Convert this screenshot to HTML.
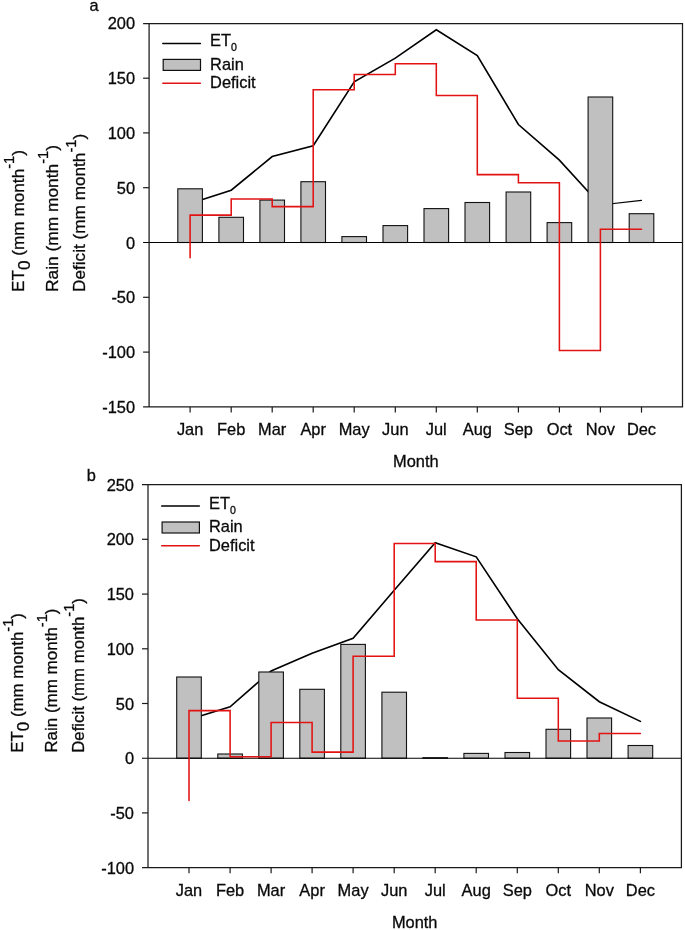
<!DOCTYPE html>
<html lang="en">
<head>
<meta charset="utf-8">
<title>ET0, rain and deficit by month</title>
<style>
html,body{margin:0;padding:0;background:#fff;}
body{width:685px;height:930px;overflow:hidden;}
svg{display:block;will-change:transform;}
.t{font-family:'Liberation Sans', Arial, sans-serif;font-size:16.4px;fill:#0a0a0a;stroke:#0a0a0a;stroke-width:0.3px;}
.yl{font-family:'Liberation Sans', Arial, sans-serif;fill:#0a0a0a;stroke:#0a0a0a;stroke-width:0.3px;}
</style>
</head>
<body>
<svg width="685" height="930" viewBox="0 0 685 930">
<rect x="0" y="0" width="685" height="930" fill="#fff"/>
<g id="panel-a">
<polyline points="190.1,203.6 231.2,190.2 272.2,156.6 313.2,145.8 354.2,81.8 395.3,58.1 436.3,29.8 477.3,55.5 518.4,124.5 559.4,160.1 600.4,205.0" fill="none" stroke="#000" stroke-width="1.6" stroke-linejoin="miter" stroke-linecap="round"/>
<line x1="600.4" y1="205.0" x2="641.5" y2="200.4" stroke="#000" stroke-width="1.15" stroke-linecap="round"/>
<rect x="177.8" y="188.8" width="24.6" height="53.7" fill="#C0C0C0" stroke="#111" stroke-width="1.1"/>
<rect x="218.9" y="217.3" width="24.6" height="25.2" fill="#C0C0C0" stroke="#111" stroke-width="1.1"/>
<rect x="259.9" y="200.1" width="24.6" height="42.4" fill="#C0C0C0" stroke="#111" stroke-width="1.1"/>
<rect x="300.9" y="181.7" width="24.6" height="60.8" fill="#C0C0C0" stroke="#111" stroke-width="1.1"/>
<rect x="341.9" y="236.6" width="24.6" height="5.9" fill="#C0C0C0" stroke="#111" stroke-width="1.1"/>
<rect x="383.0" y="225.6" width="24.6" height="16.9" fill="#C0C0C0" stroke="#111" stroke-width="1.1"/>
<rect x="424.0" y="208.6" width="24.6" height="33.9" fill="#C0C0C0" stroke="#111" stroke-width="1.1"/>
<rect x="465.0" y="202.5" width="24.6" height="40.0" fill="#C0C0C0" stroke="#111" stroke-width="1.1"/>
<rect x="506.1" y="192.0" width="24.6" height="50.5" fill="#C0C0C0" stroke="#111" stroke-width="1.1"/>
<rect x="547.1" y="222.6" width="24.6" height="19.9" fill="#C0C0C0" stroke="#111" stroke-width="1.1"/>
<rect x="588.1" y="97.0" width="24.6" height="145.5" fill="#C0C0C0" stroke="#111" stroke-width="1.1"/>
<rect x="629.2" y="213.7" width="24.6" height="28.8" fill="#C0C0C0" stroke="#111" stroke-width="1.1"/>
<line x1="143.1" y1="242.5" x2="682.5" y2="242.5" stroke="#000" stroke-width="1.15"/>
<path d="M190.1,257.8 V215.1 H231.2 V198.9 H272.2 V206.6 H313.2 V89.7 H354.2 V74.5 H395.3 V63.7 H436.3 V95.5 H477.3 V174.6 H518.4 V182.7 H559.4 V350.5 H600.4 V229.2 H641.5" fill="none" stroke="#E21313" stroke-width="1.55" stroke-linejoin="miter" stroke-linecap="round"/>
<path d="M143.1,23.5H682.5V406.9H143.1M149.1,23.5V406.9" fill="none" stroke="#1a1a1a" stroke-width="1.25" stroke-linejoin="miter"/>
<text x="135.1" y="29.4" text-anchor="end" class="t">200</text>
<line x1="143.1" y1="78.2" x2="149.1" y2="78.2" stroke="#1a1a1a" stroke-width="1.2"/>
<text x="135.1" y="84.2" text-anchor="end" class="t">150</text>
<line x1="143.1" y1="132.9" x2="149.1" y2="132.9" stroke="#1a1a1a" stroke-width="1.2"/>
<text x="135.1" y="138.9" text-anchor="end" class="t">100</text>
<line x1="143.1" y1="187.7" x2="149.1" y2="187.7" stroke="#1a1a1a" stroke-width="1.2"/>
<text x="135.1" y="193.7" text-anchor="end" class="t">50</text>
<text x="135.1" y="248.5" text-anchor="end" class="t">0</text>
<line x1="143.1" y1="297.3" x2="149.1" y2="297.3" stroke="#1a1a1a" stroke-width="1.2"/>
<text x="135.1" y="303.3" text-anchor="end" class="t">-50</text>
<line x1="143.1" y1="352.1" x2="149.1" y2="352.1" stroke="#1a1a1a" stroke-width="1.2"/>
<text x="135.1" y="358.1" text-anchor="end" class="t">-100</text>
<text x="135.1" y="412.8" text-anchor="end" class="t">-150</text>
<line x1="190.1" y1="406.9" x2="190.1" y2="412.59999999999997" stroke="#1a1a1a" stroke-width="1.2"/>
<text x="190.1" y="435.2" text-anchor="middle" class="t">Jan</text>
<line x1="231.2" y1="406.9" x2="231.2" y2="412.59999999999997" stroke="#1a1a1a" stroke-width="1.2"/>
<text x="231.2" y="435.2" text-anchor="middle" class="t">Feb</text>
<line x1="272.2" y1="406.9" x2="272.2" y2="412.59999999999997" stroke="#1a1a1a" stroke-width="1.2"/>
<text x="272.2" y="435.2" text-anchor="middle" class="t">Mar</text>
<line x1="313.2" y1="406.9" x2="313.2" y2="412.59999999999997" stroke="#1a1a1a" stroke-width="1.2"/>
<text x="313.2" y="435.2" text-anchor="middle" class="t">Apr</text>
<line x1="354.2" y1="406.9" x2="354.2" y2="412.59999999999997" stroke="#1a1a1a" stroke-width="1.2"/>
<text x="354.2" y="435.2" text-anchor="middle" class="t">May</text>
<line x1="395.3" y1="406.9" x2="395.3" y2="412.59999999999997" stroke="#1a1a1a" stroke-width="1.2"/>
<text x="395.3" y="435.2" text-anchor="middle" class="t">Jun</text>
<line x1="436.3" y1="406.9" x2="436.3" y2="412.59999999999997" stroke="#1a1a1a" stroke-width="1.2"/>
<text x="436.3" y="435.2" text-anchor="middle" class="t">Jul</text>
<line x1="477.3" y1="406.9" x2="477.3" y2="412.59999999999997" stroke="#1a1a1a" stroke-width="1.2"/>
<text x="477.3" y="435.2" text-anchor="middle" class="t">Aug</text>
<line x1="518.4" y1="406.9" x2="518.4" y2="412.59999999999997" stroke="#1a1a1a" stroke-width="1.2"/>
<text x="518.4" y="435.2" text-anchor="middle" class="t">Sep</text>
<line x1="559.4" y1="406.9" x2="559.4" y2="412.59999999999997" stroke="#1a1a1a" stroke-width="1.2"/>
<text x="559.4" y="435.2" text-anchor="middle" class="t">Oct</text>
<line x1="600.4" y1="406.9" x2="600.4" y2="412.59999999999997" stroke="#1a1a1a" stroke-width="1.2"/>
<text x="600.4" y="435.2" text-anchor="middle" class="t">Nov</text>
<line x1="641.5" y1="406.9" x2="641.5" y2="412.59999999999997" stroke="#1a1a1a" stroke-width="1.2"/>
<text x="641.5" y="435.2" text-anchor="middle" class="t">Dec</text>
<text x="415.8" y="467.2" text-anchor="middle" class="t">Month</text>
<text x="89.6" y="10.8" class="t">a</text>
<line x1="162.8" y1="43.5" x2="200.4" y2="43.5" stroke="#000" stroke-width="1.5" stroke-linecap="round"/>
<rect x="163.2" y="59.4" width="37.3" height="11" fill="#C0C0C0" stroke="#111" stroke-width="1.2"/>
<line x1="162.8" y1="83.25" x2="200.4" y2="83.25" stroke="#E21313" stroke-width="1.5" stroke-linecap="round"/>
<text x="210.1" y="45.9" class="t">ET<tspan dy="5.4" font-size="10.6">0</tspan></text>
<text x="210.1" y="69.7" class="t">Rain</text>
<text x="210.1" y="88.4" class="t">Deficit</text>
<text transform="translate(23.6,292.0) rotate(-90)" class="yl" font-size="17.2">ET<tspan dy="6.2">0</tspan><tspan dy="-6.2"> (mm month</tspan><tspan dy="-9.5" font-size="14.6">-1</tspan><tspan dy="9.5">)</tspan></text>
<text transform="translate(57.5,292.0) rotate(-90)" class="yl" font-size="17.35">Rain (mm month<tspan dy="-9.5" font-size="14.6">-1</tspan><tspan dy="9.5">)</tspan></text>
<text transform="translate(85.3,292.0) rotate(-90)" class="yl" font-size="17.2">Deficit (mm month<tspan dy="-9.5" font-size="14.6">-1</tspan><tspan dy="9.5">)</tspan></text>
</g>
<g id="panel-b">
<polyline points="189.0,719.5 230.1,706.8 271.1,670.9 312.1,653.3 353.1,638.2 394.2,590.2 435.2,542.8 476.2,556.8 517.3,618.7 558.3,669.7 599.3,701.7 640.4,721.4" fill="none" stroke="#000" stroke-width="1.6" stroke-linejoin="miter" stroke-linecap="round"/>
<rect x="176.7" y="677.0" width="24.6" height="81.2" fill="#C0C0C0" stroke="#111" stroke-width="1.1"/>
<rect x="217.8" y="754.0" width="24.6" height="4.2" fill="#C0C0C0" stroke="#111" stroke-width="1.1"/>
<rect x="258.8" y="672.0" width="24.6" height="86.2" fill="#C0C0C0" stroke="#111" stroke-width="1.1"/>
<rect x="299.8" y="689.3" width="24.6" height="68.9" fill="#C0C0C0" stroke="#111" stroke-width="1.1"/>
<rect x="340.8" y="644.4" width="24.6" height="113.8" fill="#C0C0C0" stroke="#111" stroke-width="1.1"/>
<rect x="381.9" y="692.2" width="24.6" height="66.0" fill="#C0C0C0" stroke="#111" stroke-width="1.1"/>
<rect x="422.9" y="757.7" width="24.6" height="0.5" fill="#C0C0C0" stroke="#111" stroke-width="1.1"/>
<rect x="463.9" y="753.4" width="24.6" height="4.8" fill="#C0C0C0" stroke="#111" stroke-width="1.1"/>
<rect x="505.0" y="752.5" width="24.6" height="5.7" fill="#C0C0C0" stroke="#111" stroke-width="1.1"/>
<rect x="546.0" y="729.3" width="24.6" height="28.9" fill="#C0C0C0" stroke="#111" stroke-width="1.1"/>
<rect x="587.0" y="718.0" width="24.6" height="40.2" fill="#C0C0C0" stroke="#111" stroke-width="1.1"/>
<rect x="628.1" y="745.5" width="24.6" height="12.7" fill="#C0C0C0" stroke="#111" stroke-width="1.1"/>
<line x1="142.0" y1="758.2" x2="681.4" y2="758.2" stroke="#000" stroke-width="1.15"/>
<path d="M189.0,800.5 V710.6 H230.1 V756.7 H271.1 V722.5 H312.1 V752.1 H353.1 V656.2 H394.2 V543.5 H435.2 V561.6 H476.2 V620.0 H517.3 V698.2 H558.3 V740.9 H599.3 V733.5 H640.4" fill="none" stroke="#E21313" stroke-width="1.55" stroke-linejoin="miter" stroke-linecap="round"/>
<path d="M142.0,484.5H681.4V867.5H142.0M148.0,484.5V867.5" fill="none" stroke="#1a1a1a" stroke-width="1.25" stroke-linejoin="miter"/>
<text x="134.0" y="490.6" text-anchor="end" class="t">250</text>
<line x1="142.0" y1="539.3" x2="148.0" y2="539.3" stroke="#1a1a1a" stroke-width="1.2"/>
<text x="134.0" y="545.3" text-anchor="end" class="t">200</text>
<line x1="142.0" y1="594.1" x2="148.0" y2="594.1" stroke="#1a1a1a" stroke-width="1.2"/>
<text x="134.0" y="600.1" text-anchor="end" class="t">150</text>
<line x1="142.0" y1="648.8" x2="148.0" y2="648.8" stroke="#1a1a1a" stroke-width="1.2"/>
<text x="134.0" y="654.8" text-anchor="end" class="t">100</text>
<line x1="142.0" y1="703.5" x2="148.0" y2="703.5" stroke="#1a1a1a" stroke-width="1.2"/>
<text x="134.0" y="709.5" text-anchor="end" class="t">50</text>
<text x="134.0" y="764.2" text-anchor="end" class="t">0</text>
<line x1="142.0" y1="812.9" x2="148.0" y2="812.9" stroke="#1a1a1a" stroke-width="1.2"/>
<text x="134.0" y="818.9" text-anchor="end" class="t">-50</text>
<text x="134.0" y="873.6" text-anchor="end" class="t">-100</text>
<line x1="189.0" y1="867.5" x2="189.0" y2="873.2" stroke="#1a1a1a" stroke-width="1.2"/>
<text x="189.0" y="895.8" text-anchor="middle" class="t">Jan</text>
<line x1="230.1" y1="867.5" x2="230.1" y2="873.2" stroke="#1a1a1a" stroke-width="1.2"/>
<text x="230.1" y="895.8" text-anchor="middle" class="t">Feb</text>
<line x1="271.1" y1="867.5" x2="271.1" y2="873.2" stroke="#1a1a1a" stroke-width="1.2"/>
<text x="271.1" y="895.8" text-anchor="middle" class="t">Mar</text>
<line x1="312.1" y1="867.5" x2="312.1" y2="873.2" stroke="#1a1a1a" stroke-width="1.2"/>
<text x="312.1" y="895.8" text-anchor="middle" class="t">Apr</text>
<line x1="353.1" y1="867.5" x2="353.1" y2="873.2" stroke="#1a1a1a" stroke-width="1.2"/>
<text x="353.1" y="895.8" text-anchor="middle" class="t">May</text>
<line x1="394.2" y1="867.5" x2="394.2" y2="873.2" stroke="#1a1a1a" stroke-width="1.2"/>
<text x="394.2" y="895.8" text-anchor="middle" class="t">Jun</text>
<line x1="435.2" y1="867.5" x2="435.2" y2="873.2" stroke="#1a1a1a" stroke-width="1.2"/>
<text x="435.2" y="895.8" text-anchor="middle" class="t">Jul</text>
<line x1="476.2" y1="867.5" x2="476.2" y2="873.2" stroke="#1a1a1a" stroke-width="1.2"/>
<text x="476.2" y="895.8" text-anchor="middle" class="t">Aug</text>
<line x1="517.3" y1="867.5" x2="517.3" y2="873.2" stroke="#1a1a1a" stroke-width="1.2"/>
<text x="517.3" y="895.8" text-anchor="middle" class="t">Sep</text>
<line x1="558.3" y1="867.5" x2="558.3" y2="873.2" stroke="#1a1a1a" stroke-width="1.2"/>
<text x="558.3" y="895.8" text-anchor="middle" class="t">Oct</text>
<line x1="599.3" y1="867.5" x2="599.3" y2="873.2" stroke="#1a1a1a" stroke-width="1.2"/>
<text x="599.3" y="895.8" text-anchor="middle" class="t">Nov</text>
<line x1="640.4" y1="867.5" x2="640.4" y2="873.2" stroke="#1a1a1a" stroke-width="1.2"/>
<text x="640.4" y="895.8" text-anchor="middle" class="t">Dec</text>
<text x="414.7" y="927.8" text-anchor="middle" class="t">Month</text>
<text x="86.7" y="481.2" class="t">b</text>
<line x1="161.7" y1="506.1" x2="199.3" y2="506.1" stroke="#000" stroke-width="1.5" stroke-linecap="round"/>
<rect x="162.1" y="522.0" width="37.3" height="11" fill="#C0C0C0" stroke="#111" stroke-width="1.2"/>
<line x1="161.7" y1="545.85" x2="199.3" y2="545.85" stroke="#E21313" stroke-width="1.5" stroke-linecap="round"/>
<text x="209.0" y="508.5" class="t">ET<tspan dy="5.4" font-size="10.6">0</tspan></text>
<text x="209.0" y="532.3" class="t">Rain</text>
<text x="209.0" y="551.0" class="t">Deficit</text>
<text transform="translate(22.6,752.8) rotate(-90)" class="yl" font-size="16.9">ET<tspan dy="6.2">0</tspan><tspan dy="-6.2"> (mm month</tspan><tspan dy="-9.5" font-size="14.6">-1</tspan><tspan dy="9.5">)</tspan></text>
<text transform="translate(56.6,752.8) rotate(-90)" class="yl" font-size="17.0">Rain (mm month<tspan dy="-9.5" font-size="14.6">-1</tspan><tspan dy="9.5">)</tspan></text>
<text transform="translate(83.8,752.8) rotate(-90)" class="yl" font-size="16.8">Deficit (mm month<tspan dy="-9.5" font-size="14.6">-1</tspan><tspan dy="9.5">)</tspan></text>
</g>
</svg>
</body>
</html>
